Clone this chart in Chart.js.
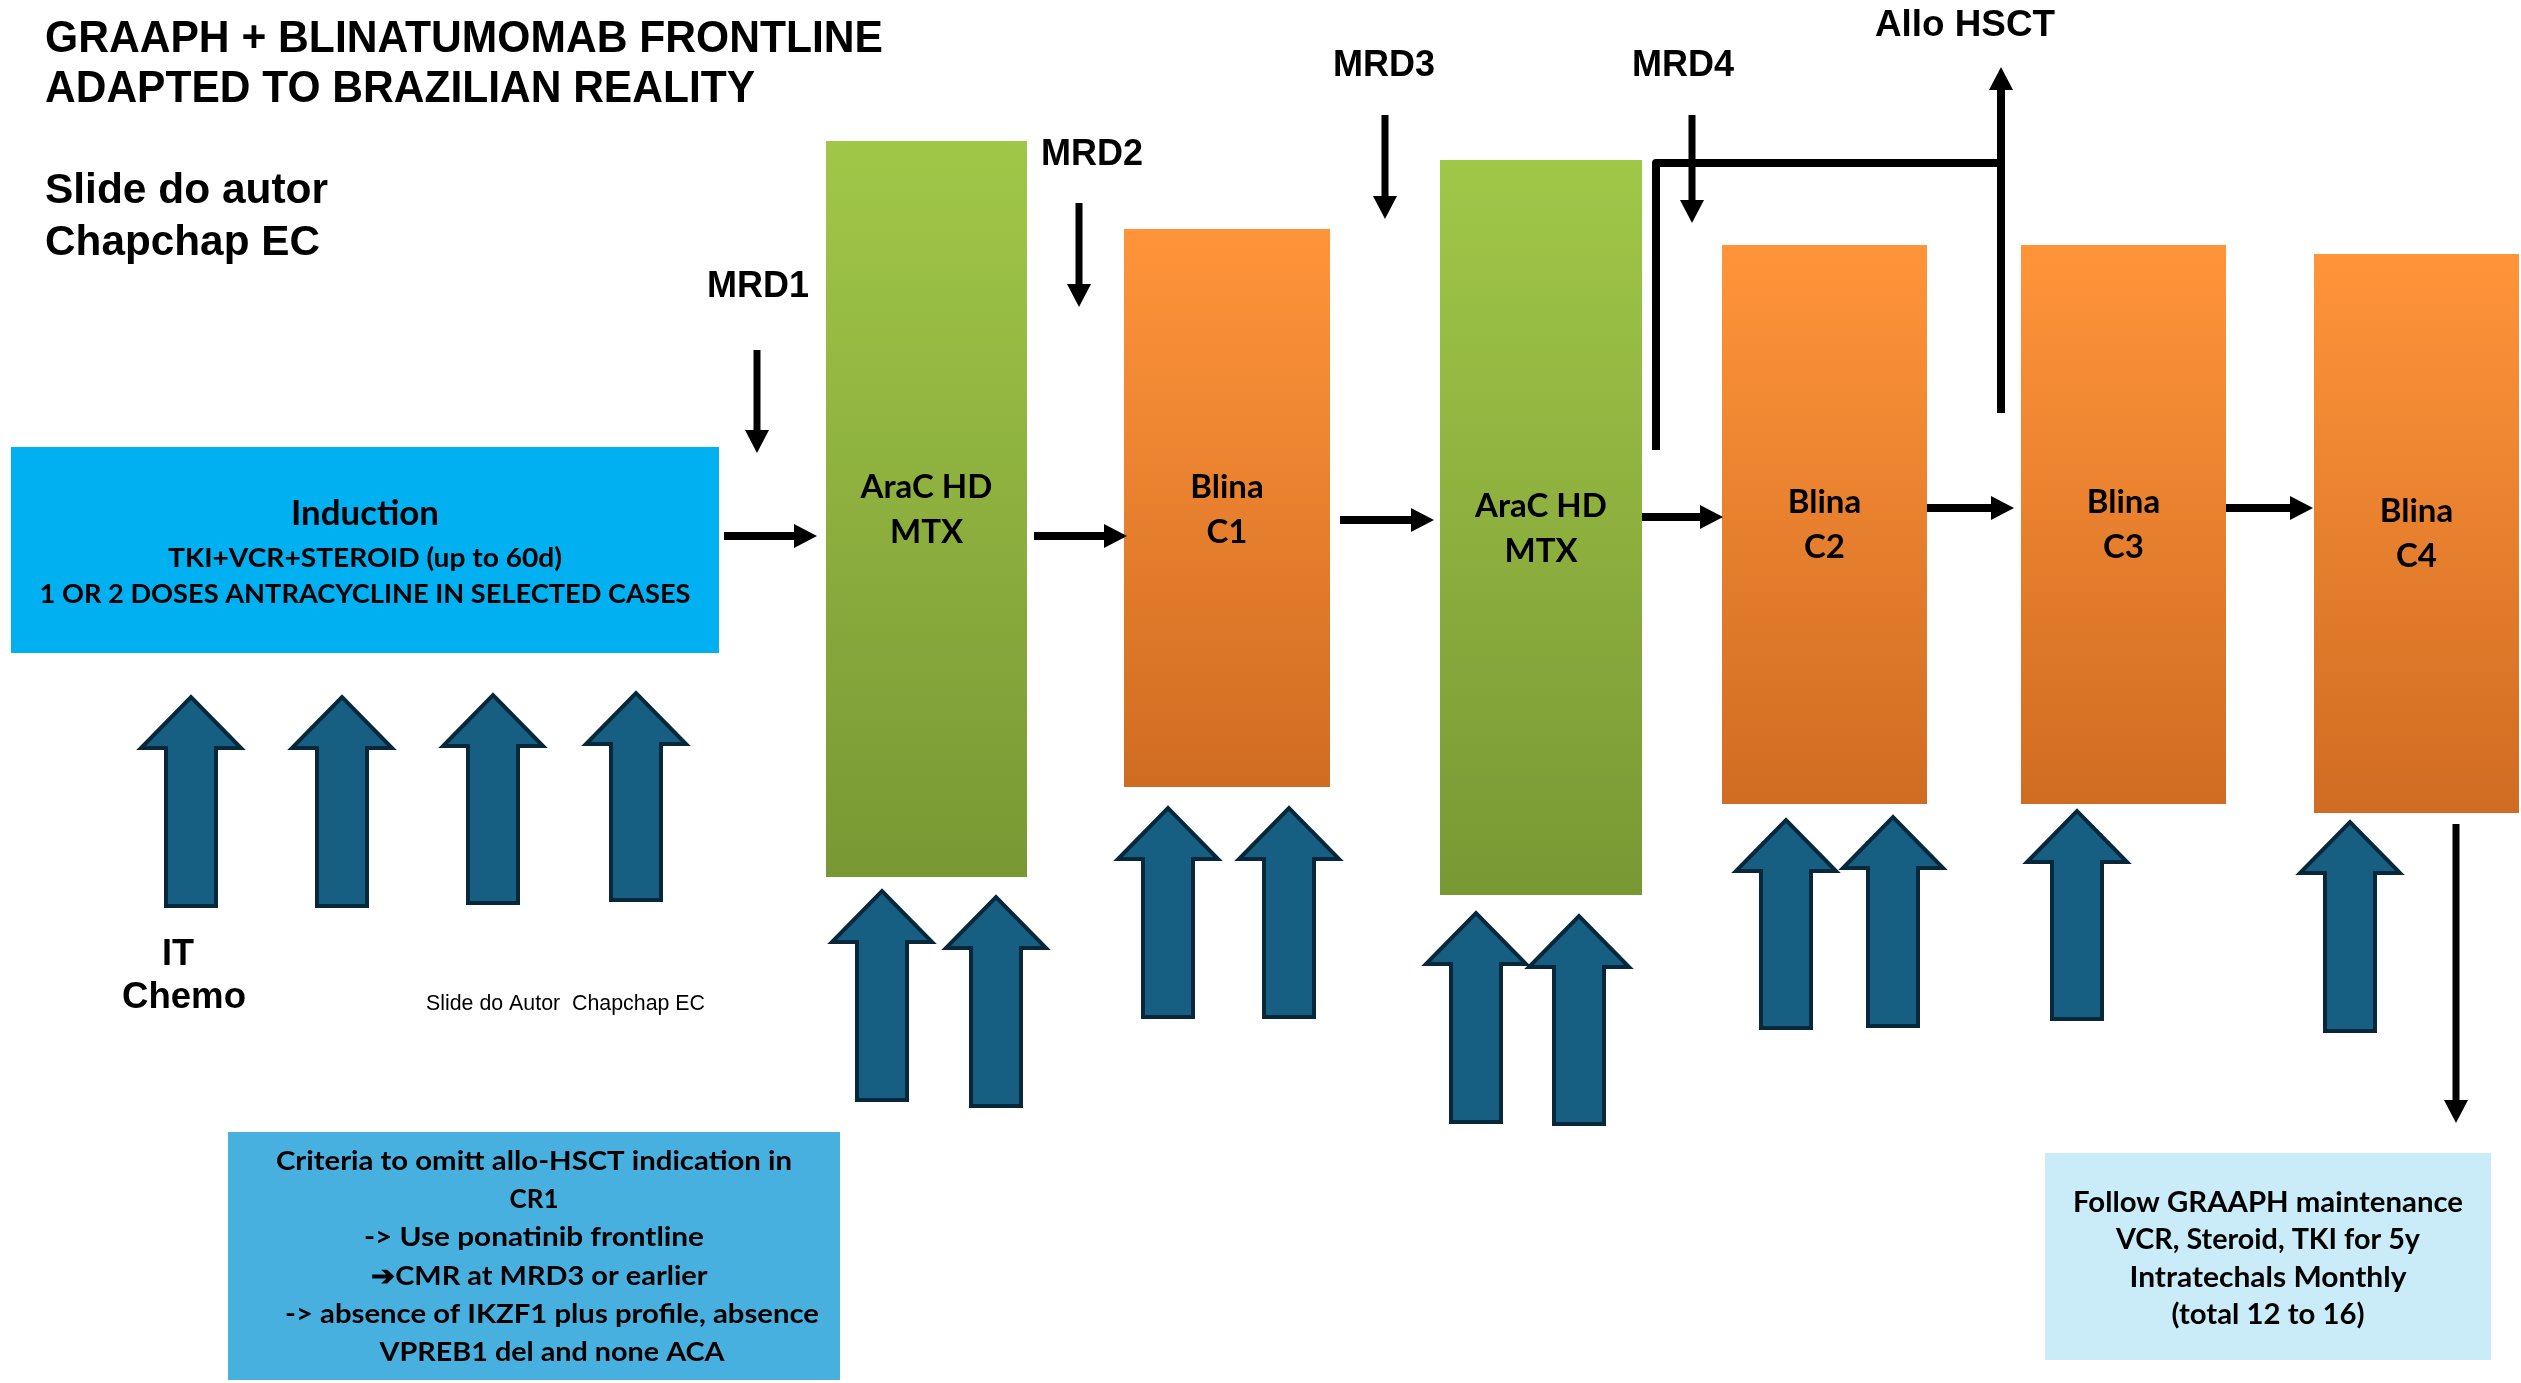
<!DOCTYPE html>
<html>
<head>
<meta charset="utf-8">
<title>GRAAPH + Blinatumomab frontline</title>
<script src="https://cdn.jsdelivr.net/npm/chart.js@4.4.1/dist/chart.umd.min.js"></script>
<style>
  html, body { margin: 0; padding: 0; background: #fff; }
  .wrap { width: 2521px; height: 1383px; position: relative; }
</style>
</head>
<body>
<div class="wrap"><canvas id="slide"></canvas></div>
<script>
// everything is in slide units: x 0..2521 from the left, y 0..1383 from the top

// treatment blocks
const stageNames = ['Induction', 'AraC HD|MTX', 'Blina|C1', 'AraC HD|MTX', 'Blina|C2', 'Blina|C3', 'Blina|C4'];
const stageKinds = ['induction', 'arac', 'blina', 'arac', 'blina', 'blina', 'blina'];
const stageLeft = [11, 826, 1124, 1440, 1722, 2021, 2314];
const stageRight = [719, 1027, 1330, 1642, 1927, 2226, 2519];
const stageTop = [447, 141, 229, 160, 245, 245, 254];
const stageBottom = [653, 877, 787, 895, 804, 804, 813];
const stageLabelY = [0, 498, 498, 517, 513, 513, 522];

// intrathecal chemo (big up arrows)
const itX = [191, 342, 493, 636, 882, 996, 1168, 1289, 1476, 1579, 1786, 1893, 2077, 2350];
const itTip = [697, 697, 695, 693, 891, 897, 808, 808, 913, 916, 820, 817, 811, 822];
const itBase = [906, 906, 903, 900, 1100, 1106, 1017, 1017, 1122, 1124, 1028, 1026, 1019, 1031];

// MRD checkpoints
const mrdNames = ['MRD1', 'MRD2', 'MRD3', 'MRD4'];
const mrdX = [757, 1079, 1385, 1692];
const mrdFrom = [350, 203, 115, 115];
const mrdTo = [453, 307, 219, 223];
const mrdLabelX = [707, 1041, 1333, 1632];
const mrdLabelY = [297, 165, 76, 76];

// flow arrows between blocks
const flowFrom = [724, 1034, 1340, 1642, 1927, 2226];
const flowTo = [817, 1127, 1434, 1723, 2014, 2313];
const flowY = [536, 536, 520, 517, 508, 508];

// allo HSCT branch and exit to maintenance
const alloPath = [[1656, 450], [1656, 163], [2005, 163]];
const alloArrow = [[2001, 413], [2001, 67]];
const maintArrow = [[2456, 824], [2456, 1123]];

// note boxes
const noteLeft = [228, 2045];
const noteRight = [840, 2491];
const noteTop = [1132, 1153];
const noteBottom = [1380, 1360];
const noteColors = ['#47B0DF', '#C9ECF8'];

const criteriaLines = [
  'Criteria to omitt allo-HSCT indication in',
  'CR1',
  '-> Use ponatinib frontline',
  '\u2794CMR at MRD3 or earlier',
  '-> absence of IKZF1 plus profile, absence',
  'VPREB1 del and none ACA'
];
const criteriaX = [534, 534, 534, 539, 552, 552];
const criteriaY = [1170, 1208, 1246, 1285, 1323, 1361];
const criteriaW = [516, 49, 340, 337, 534, 345];

const maintLines = ['Follow GRAAPH maintenance', 'VCR, Steroid, TKI for 5y', 'Intratechals Monthly', '(total 12 to 16)'];
const maintY = [1212, 1249, 1287, 1324];
const maintW = [390, 304, 277, 193];

const fonts = {
  title: 'bold 45px "Liberation Sans"',
  sub: 'bold 43px "Liberation Sans"',
  mrd: 'bold 36px "Liberation Sans"',
  small: '22px "Liberation Sans"',
  block: 'bold 33px Lato',
  ind: 'bold 35px Lato',
  indSmall: 'bold 27px Lato',
  note: 'bold 27px Lato',
  maint: 'bold 28px Lato'
};

const textItems = [
  {t: 'GRAAPH + BLINATUMOMAB FRONTLINE', x: 45, y: 52, f: 'title', a: 'left', w: 838},
  {t: 'ADAPTED TO BRAZILIAN REALITY', x: 45, y: 102, f: 'title', a: 'left', w: 710},
  {t: 'Slide do autor', x: 45, y: 203, f: 'sub', a: 'left', w: 283},
  {t: 'Chapchap EC', x: 45, y: 255, f: 'sub', a: 'left', w: 275},
  {t: 'Allo HSCT', x: 1875, y: 36, f: 'mrd', a: 'left', w: 180},
  {t: 'IT', x: 178, y: 965, f: 'mrd'},
  {t: 'Chemo', x: 184, y: 1008, f: 'mrd', w: 124},
  {t: 'Slide do Autor  Chapchap EC', x: 426, y: 1010, f: 'small', a: 'left', w: 279},
  {t: 'Induction', x: 365, y: 525, f: 'ind', w: 148},
  {t: 'TKI+VCR+STEROID (up to 60d)', x: 365, y: 567, f: 'indSmall', w: 394},
  {t: '1 OR 2 DOSES ANTRACYCLINE IN SELECTED CASES', x: 365, y: 603, f: 'indSmall', w: 651}
];
mrdNames.forEach((n, i) => textItems.push({t: n, x: mrdLabelX[i], y: mrdLabelY[i], f: 'mrd', a: 'left'}));
stageNames.forEach((n, i) => {
  if (i === 0) return;
  n.split('|').forEach((line, k) => {
    textItems.push({t: line, x: (stageLeft[i] + stageRight[i]) / 2, y: stageLabelY[i] + k * 45, f: 'block'});
  });
});
criteriaLines.forEach((t, i) => textItems.push({t: t, x: criteriaX[i], y: criteriaY[i], f: 'note', w: criteriaW[i]}));
maintLines.forEach((t, i) => textItems.push({t: t, x: (noteLeft[1] + noteRight[1]) / 2, y: maintY[i], f: 'maint', w: maintW[i]}));

const blockColors = {
  induction: ['#00B0F0', '#00B0F0'],
  arac: ['#A1C748', '#789834'],
  blina: ['#FF943A', '#D06C22']
};
const HEAD_LEN = 23, HEAD_W = 24;

function gradientFor(i) {
  const c = blockColors[stageKinds[i]];
  return function (context) {
    const chart = context.chart;
    const ys = chart.scales && chart.scales.y;
    if (!ys) return c[0];
    const y0 = ys.getPixelForValue(stageTop[i]);
    const y1 = ys.getPixelForValue(stageBottom[i]);
    if (!isFinite(y0) || !isFinite(y1) || y0 === y1) return c[0];
    const g = chart.ctx.createLinearGradient(0, y0, 0, y1);
    g.addColorStop(0, c[0]);
    g.addColorStop(1, c[1]);
    return g;
  };
}

function upArrowShape(cx, tip, base) {
  const hw = 50, sw = 25, neck = tip + 51;
  return [
    {x: cx, y: base}, {x: cx + sw, y: base}, {x: cx + sw, y: neck}, {x: cx + hw, y: neck},
    {x: cx, y: tip}, {x: cx - hw, y: neck}, {x: cx - sw, y: neck}, {x: cx - sw, y: base}, {x: cx, y: base}
  ];
}

const datasets = [];

// blocks
stageNames.forEach((name, i) => {
  datasets.push({
    label: name,
    data: [{x: stageLeft[i], y: stageTop[i]}, {x: stageRight[i], y: stageTop[i]}],
    fill: {value: stageBottom[i]},
    backgroundColor: gradientFor(i),
    borderWidth: 0,
    pointRadius: 0,
    order: 3
  });
});
noteLeft.forEach((l, i) => {
  datasets.push({
    label: 'note ' + i,
    data: [{x: l, y: noteTop[i]}, {x: noteRight[i], y: noteTop[i]}],
    fill: {value: noteBottom[i]},
    backgroundColor: noteColors[i],
    borderWidth: 0,
    pointRadius: 0,
    order: 3
  });
});

// IT chemo arrows
itX.forEach((x, i) => {
  datasets.push({
    label: 'IT ' + (i + 1),
    data: upArrowShape(x, itTip[i], itBase[i]),
    fill: 'shape',
    backgroundColor: '#175E83',
    borderColor: '#07283A',
    borderWidth: 4,
    borderJoinStyle: 'miter',
    pointRadius: 0,
    order: 2
  });
});

// thin black arrows
function addArrow(x1, y1, x2, y2, width) {
  const len = Math.hypot(x2 - x1, y2 - y1);
  const ux = (x2 - x1) / len, uy = (y2 - y1) / len;
  const bx = x2 - ux * HEAD_LEN, by = y2 - uy * HEAD_LEN;
  const px = -uy * HEAD_W / 2, py = ux * HEAD_W / 2;
  datasets.push({
    data: [{x: x1, y: y1}, {x: bx + ux * 2, y: by + uy * 2}],
    borderColor: '#000', borderWidth: width, borderCapStyle: 'butt',
    fill: false, pointRadius: 0, order: 1
  });
  datasets.push({
    data: [{x: x2, y: y2}, {x: bx + px, y: by + py}, {x: bx - px, y: by - py}, {x: x2, y: y2}],
    fill: 'shape', backgroundColor: '#000', borderWidth: 0, pointRadius: 0, order: 1
  });
}
mrdX.forEach((x, i) => addArrow(x, mrdFrom[i], x, mrdTo[i], 7));
flowFrom.forEach((x, i) => addArrow(x, flowY[i], flowTo[i], flowY[i], 8));
addArrow(alloArrow[0][0], alloArrow[0][1], alloArrow[1][0], alloArrow[1][1], 8);
addArrow(maintArrow[0][0], maintArrow[0][1], maintArrow[1][0], maintArrow[1][1], 7);
datasets.push({
  data: alloPath.map(p => ({x: p[0], y: p[1]})),
  borderColor: '#000', borderWidth: 8, borderJoinStyle: 'round', borderCapStyle: 'butt',
  fill: false, pointRadius: 0, order: 1
});

const slideText = {
  id: 'slideText',
  afterDraw(chart) {
    const {ctx} = chart;
    const sx = chart.scales.x, sy = chart.scales.y;
    ctx.save();
    ctx.fillStyle = '#000';
    ctx.textBaseline = 'alphabetic';
    textItems.forEach(item => {
      ctx.font = fonts[item.f];
      ctx.textAlign = item.a || 'center';
      const px = sx.getPixelForValue(item.x);
      const py = sy.getPixelForValue(item.y);
      if (item.w) {
        const natural = ctx.measureText(item.t).width;
        const k = Math.max(0.75, Math.min(1.25, (sx.getPixelForValue(item.w) - sx.getPixelForValue(0)) / natural));
        ctx.save();
        ctx.translate(px, py);
        ctx.scale(k, 1);
        ctx.fillText(item.t, 0, 0);
        ctx.restore();
      } else {
        ctx.fillText(item.t, px, py);
      }
    });
    ctx.restore();
  }
};

new Chart(document.getElementById('slide'), {
  type: 'line',
  data: {datasets: datasets},
  options: {
    responsive: true,
    maintainAspectRatio: false,
    animation: false,
    layout: {padding: 0},
    plugins: {legend: {display: false}, tooltip: {enabled: false}},
    scales: {
      x: {type: 'linear', min: 0, max: 2521, display: false},
      y: {type: 'linear', min: 0, max: 1383, reverse: true, display: false}
    }
  },
  plugins: [slideText]
});
</script>
</body>
</html>
